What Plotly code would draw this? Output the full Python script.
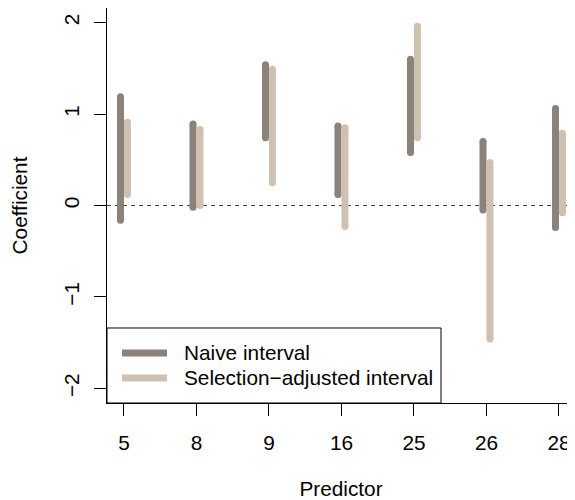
import plotly.graph_objects as go

predictors = ["5", "8", "9", "16", "25", "26", "28"]
naive_lo = [-0.16, -0.02, 0.74, 0.12, 0.58, -0.05, -0.24]
naive_hi = [1.19, 0.89, 1.54, 0.87, 1.60, 0.70, 1.06]
adj_lo = [0.12, 0.00, 0.25, -0.23, 0.74, -1.46, -0.08]
adj_hi = [0.91, 0.83, 1.49, 0.85, 1.96, 0.47, 0.79]
series_names = ["Naive interval", "Selection\u2212adjusted interval"]

NAIVE_COL = "#8B8279"
ADJ_COL = "#CFC1B2"
FONT = "Liberation Sans, Arial, sans-serif"
FS = 20.8


def segments(lo, hi, offset):
    xs, ys = [], []
    for i, (a, b) in enumerate(zip(lo, hi)):
        x = i + 1 + offset
        xs += [x, x, None]
        ys += [a, b, None]
    return xs, ys


fig = go.Figure()
nx, ny = segments(naive_lo, naive_hi, -0.048)
ax, ay = segments(adj_lo, adj_hi, 0.048)
fig.add_trace(go.Scatter(x=nx, y=ny, mode="lines+markers", name=series_names[0],
                         line=dict(color=NAIVE_COL, width=7),
                         marker=dict(color=NAIVE_COL, size=7, line=dict(width=0))))
fig.add_trace(go.Scatter(x=ax, y=ay, mode="lines+markers", name=series_names[1],
                         line=dict(color=ADJ_COL, width=7),
                         marker=dict(color=ADJ_COL, size=7, line=dict(width=0))))

fig.add_shape(type="line", xref="paper", x0=0, x1=1, yref="y", y0=0, y1=0,
              line=dict(color="#444444", width=1.2, dash="4px,4px"), layer="below")

# legend box (drawn manually to match the reference layout)
fig.add_shape(type="rect", xref="paper", yref="paper", x0=0, x1=0.7137, y0=0, y1=0.1899,
              line=dict(color="black", width=1), fillcolor="white", layer="above")
for yy, col, name in [(0.1266, NAIVE_COL, series_names[0]), (0.0633, ADJ_COL, series_names[1])]:
    fig.add_shape(type="line", xref="paper", yref="paper", x0=0.0321, x1=0.1282, y0=yy, y1=yy,
                  line=dict(color=col, width=7), layer="above")
    fig.add_annotation(xref="paper", yref="paper", x=0.1603, y=yy, text=name, showarrow=False,
                       xanchor="left", yanchor="middle", font=dict(size=FS, color="black"))

fig.update_layout(
    width=567, height=492,
    margin=dict(l=99, r=0, t=0, b=97),
    plot_bgcolor="white", paper_bgcolor="white",
    font=dict(family=FONT, size=FS, color="black"),
    showlegend=False,
    xaxis=dict(range=[0.766, 7.221], tickmode="array",
               tickvals=list(range(1, len(predictors) + 1)), ticktext=predictors,
               showgrid=False, zeroline=False, showline=True, mirror=True,
               linecolor="black", linewidth=1, ticks="outside", ticklen=12,
               tickcolor="black", ticklabelstandoff=9, automargin=False,
               title=dict(text="Predictor", standoff=32, font=dict(size=FS))),
    yaxis=dict(range=[-2.16, 2.16], tickmode="array", tickvals=[-2, -1, 0, 1, 2],
               ticktext=["\u22122", "\u22121", "0", "1", "2"], tickangle=-90,
               showgrid=False, zeroline=False, showline=True, mirror=True,
               linecolor="black", linewidth=1, ticks="outside", ticklen=12,
               tickcolor="black", ticklabelstandoff=7, automargin=False,
               title=dict(text="Coefficient", standoff=27, font=dict(size=FS))),
)

fig.write_html("out.html")
